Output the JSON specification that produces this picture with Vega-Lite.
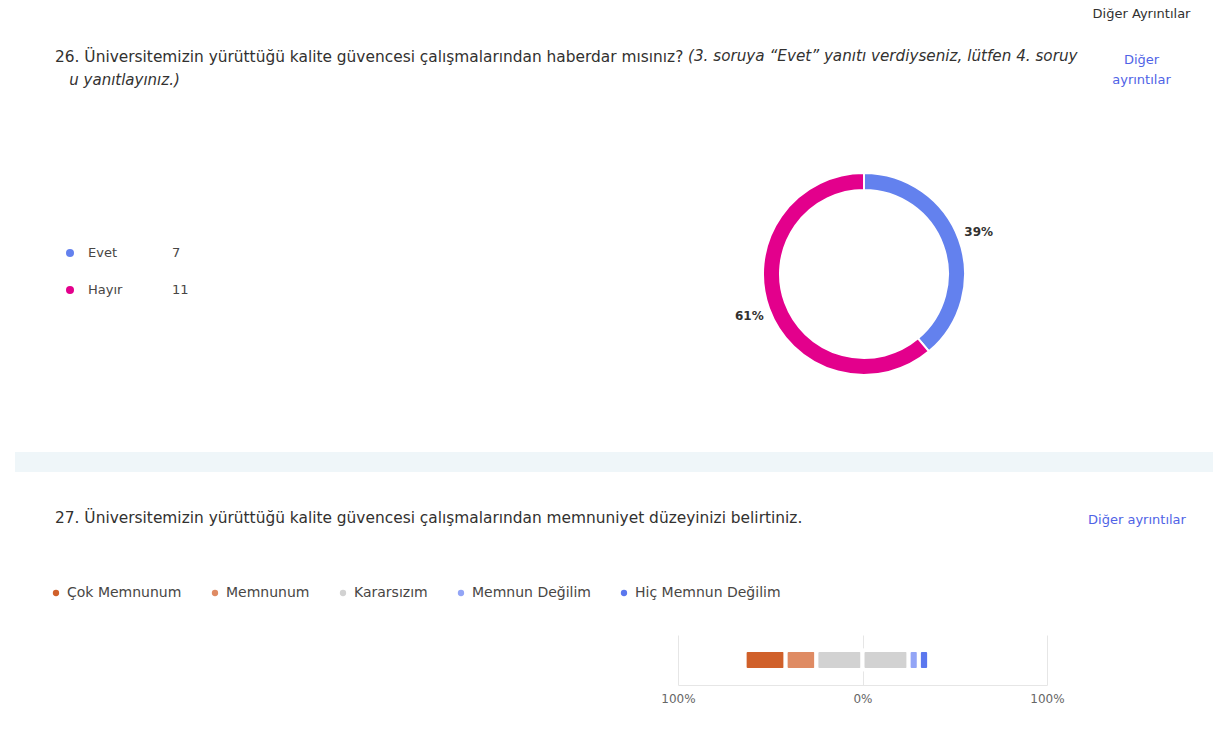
{
  "$schema": "https://vega.github.io/schema/vega-lite/v6.json",
  "padding": {"left": 15, "top": 8, "right": 0, "bottom": 0},
  "background": "white",
  "spacing": 0,
  "config": {
    "view": {"stroke": null},
    "font": "DejaVu Sans",
    "title": {"font": "DejaVu Sans", "fontWeight": "normal", "color": "#323130", "anchor": "start", "fontSize": 15.4, "subtitleFont": "DejaVu Sans", "subtitleFontSize": 15, "subtitleColor": "#323130"},
    "concat": {"spacing": 0}
  },
  "resolve": {"scale": {"color": "independent"}, "legend": {"color": "independent"}},
  "vconcat": [
    {
      "bounds": "flush",
      "spacing": 0,
      "hconcat": [
        {
          "width": 675,
          "height": 356,
          "title": {"text": "26. Üniversitemizin yürüttüğü kalite güvencesi çalışmalarından haberdar mısınız?", "subtitle": "\u200b\u00a0\u00a0\u00a0u yanıtlayınız.)", "subtitleFontStyle": "italic", "dx": 40, "offset": 8, "lineHeight": 18, "subtitleLineHeight": 18, "subtitlePadding": 8},
          "data": {"values": [{"cevap": "Evet", "sayi": 7, "sira": 1}, {"cevap": "Hayır", "sayi": 11, "sira": 2}]},
          "encoding": {"y": {"field": "cevap", "type": "nominal", "scale": {"type": "point", "domain": ["Evet", "Hayır"], "range": [157, 194], "padding": 0}, "axis": null}},
          "layer": [
            {"mark": {"type": "point", "filled": true, "size": 64, "opacity": 1},
             "encoding": {"x": {"datum": "isaret", "type": "nominal", "scale": {"type": "point", "domain": ["isaret", "sayi"], "range": [55, 157], "padding": 0}, "axis": null},
                          "color": {"field": "cevap", "type": "nominal", "scale": {"domain": ["Evet", "Hayır"], "range": ["#6381ee", "#e3008c"]}, "legend": null}}},
            {"mark": {"type": "text", "align": "left", "dx": 18, "fontSize": 13, "color": "#484644"},
             "encoding": {"x": {"datum": "isaret", "type": "nominal"}, "text": {"field": "cevap"}}},
            {"mark": {"type": "text", "align": "left", "fontSize": 13, "color": "#484644"},
             "encoding": {"x": {"datum": "sayi", "type": "nominal"}, "text": {"field": "sayi"}}}
          ]
        },
        {
          "width": 348,
          "height": 356,
          "title": {"text": "(3. soruya “Evet” yanıtı verdiyseniz, lütfen 4. soruy", "fontStyle": "italic", "fontSize": 15.2, "offset": 32, "dx": -2},
          "data": {"values": [{"cevap": "Evet", "sayi": 7, "sira": 1}, {"cevap": "Hayır", "sayi": 11, "sira": 2}]},
          "transform": [
            {"joinaggregate": [{"op": "sum", "field": "sayi", "as": "toplam"}]},
            {"calculate": "round(datum.sayi / datum.toplam * 100) + '%'", "as": "oran"}
          ],
          "encoding": {"theta": {"field": "sayi", "type": "quantitative", "stack": true}, "order": {"field": "sira"}},
          "layer": [
            {"mark": {"type": "arc", "outerRadius": 101, "innerRadius": 84, "stroke": "white", "strokeWidth": 2},
             "encoding": {"color": {"field": "cevap", "type": "nominal", "scale": {"domain": ["Evet", "Hayır"], "range": ["#6381ee", "#e3008c"]}, "legend": null}}},
            {"mark": {"type": "text", "radius": 122, "fontSize": 12, "fontWeight": "bold", "color": "#323130"},
             "encoding": {"text": {"field": "oran"}, "detail": {"field": "cevap"}}}
          ]
        },
        {
          "width": 175,
          "height": 356,
          "title": {"text": "Diğer Ayrıntılar", "fontSize": 13, "color": "#323130", "anchor": "middle", "dx": 16, "subtitle": ["Diğer", "ayrıntılar"], "subtitleColor": "#4f63e6", "subtitleFontSize": 13, "subtitleLineHeight": 20, "subtitlePadding": 33, "offset": 9},
          "data": {"values": []},
          "mark": "point"
        }
      ]
    },
    {
      "width": 1198,
      "height": 20,
      "view": {"fill": "#eff6f9"},
      "data": {"values": []},
      "mark": "point"
    },
    {
      "width": 1198,
      "height": 38,
      "data": {"values": []},
      "mark": "point"
    },
    {
      "bounds": "flush",
      "spacing": 0,
      "resolve": {"scale": {"color": "independent"}, "legend": {"color": "independent"}},
      "hconcat": [
        {
          "width": 663,
          "height": 50,
          "title": {"text": "27. Üniversitemizin yürüttüğü kalite güvencesi çalışmalarından memnuniyet düzeyinizi belirtiniz.", "dx": 40, "offset": 60},
          "data": {"values": []},
          "mark": {"type": "point", "filled": true, "opacity": 1},
          "encoding": {"color": {"field": "yanit", "type": "nominal",
            "scale": {"domain": ["Çok Memnunum", "Memnunum", "Kararsızım", "Memnun Değilim", "Hiç Memnun Değilim"], "range": ["#d0602a", "#df8b63", "#d2d2d2", "#93a5f6", "#5b77ee"]},
            "legend": {"orient": "none", "legendX": 34, "legendY": -49, "direction": "horizontal", "columns": 5, "title": null, "symbolType": "circle", "symbolSize": 40, "symbolStrokeWidth": 0, "symbolOpacity": 1, "labelFontSize": 14, "labelColor": "#484644", "labelFont": "DejaVu Sans", "columnPadding": 26, "labelOffset": 4, "padding": 0}}}
        },
        {
          "width": 369,
          "height": 50,
          "data": {"values": [
            {"yanit": "Çok Memnunum", "sayi": 4, "sira": 1, "taraf": "sol"},
            {"yanit": "Memnunum", "sayi": 3, "sira": 2, "taraf": "sol"},
            {"yanit": "Kararsızım", "sayi": 4.5, "sira": 3, "taraf": "sol"},
            {"yanit": "Kararsızım", "sayi": 4.5, "sira": 4, "taraf": "sag"},
            {"yanit": "Memnun Değilim", "sayi": 1, "sira": 5, "taraf": "sag"},
            {"yanit": "Hiç Memnun Değilim", "sayi": 1, "sira": 6, "taraf": "sag"}
          ]},
          "transform": [
            {"joinaggregate": [{"op": "sum", "field": "sayi", "as": "toplam"}]},
            {"calculate": "datum.sayi / datum.toplam * 100", "as": "yuzde"},
            {"calculate": "datum.taraf == 'sol' ? datum.yuzde : 0", "as": "solYuzde"},
            {"joinaggregate": [{"op": "sum", "field": "solYuzde", "as": "solToplam"}]},
            {"stack": "yuzde", "groupby": [], "sort": [{"field": "sira", "order": "ascending"}], "as": ["bas0", "bit0"]},
            {"calculate": "datum.bas0 - datum.solToplam", "as": "bas"},
            {"calculate": "datum.bit0 - datum.solToplam", "as": "bit"}
          ],
          "mark": {"type": "bar", "stroke": "white", "strokeWidth": 4, "cornerRadius": 3},
          "encoding": {
            "x": {"field": "bas", "type": "quantitative", "scale": {"domain": [-100, 100], "nice": false},
                  "axis": {"values": [-100, 0, 100], "labelExpr": "abs(datum.value) + '%'", "grid": true, "gridColor": "#e6e6e6", "domainColor": "#e6e6e6", "ticks": false, "labelColor": "#666666", "labelFontSize": 12, "labelPadding": 8, "labelFlush": false, "title": null}},
            "x2": {"field": "bit"},
            "y": {"datum": "27", "type": "nominal", "scale": {"paddingInner": 0, "paddingOuter": 0.75}, "axis": null},
            "color": {"field": "yanit", "type": "nominal",
              "scale": {"domain": ["Çok Memnunum", "Memnunum", "Kararsızım", "Memnun Değilim", "Hiç Memnun Değilim"], "range": ["#d0602a", "#df8b63", "#d2d2d2", "#93a5f6", "#5b77ee"]},
              "legend": null}
          }
        },
        {
          "width": 166,
          "height": 50,
          "title": {"text": "Diğer ayrıntılar", "color": "#4f63e6", "fontSize": 13, "anchor": "middle", "dx": 7, "offset": 108},
          "data": {"values": []},
          "mark": "point"
        }
      ]
    }
  ]
}
